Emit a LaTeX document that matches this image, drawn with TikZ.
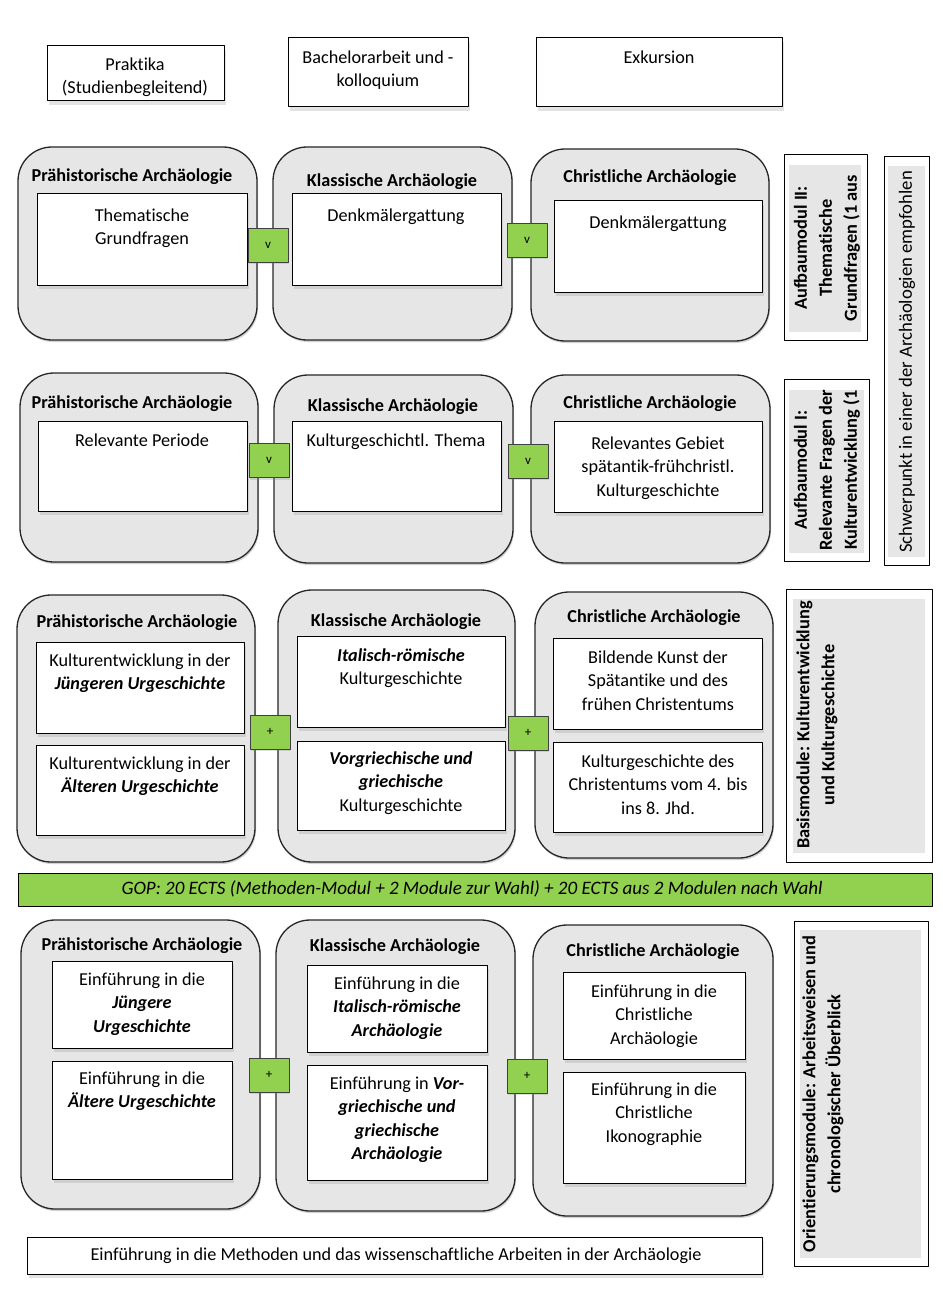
\documentclass[tikz,border=0pt]{standalone}
\usepackage{fontspec}
\setmainfont{Carlito}[Ligatures=NoCommon]
\usepackage{tikz}
\usetikzlibrary{shadows}
\definecolor{boxgray}{HTML}{E6E6E6}
\definecolor{okgreen}{HTML}{92D050}
\newcommand{\bfit}[1]{\textbf{\textit{#1}}}
\newcommand{\bodyfont}{\fontsize{18.2}{23.5}\selectfont}
\newcommand{\titlefont}{\fontsize{18.2}{21}\selectfont\bfseries}
\newcommand{\sidefont}{\fontsize{18.4}{25}\selectfont\bfseries}

\begin{document}
\begin{tikzpicture}[x=1pt,y=-1pt,join=round,
  outerbox/.style={draw=black!85,line width=1.3pt,fill=boxgray,rounded corners=34pt,drop shadow={shadow xshift=1pt,shadow yshift=-2pt,opacity=.35}},
  innerbox/.style={draw=black,line width=1pt,fill=white,drop shadow={shadow xshift=2pt,shadow yshift=-4pt,opacity=.22}},
  okbox/.style={draw=black!75,line width=.8pt,fill=okgreen,minimum width=40pt,minimum height=34pt,inner sep=0pt,font=\fontsize{13}{15}\selectfont,drop shadow={shadow xshift=1pt,shadow yshift=-2pt,opacity=.25}},
  title/.style={inner sep=0pt,font=\titlefont},
  body/.style={anchor=north,yshift=10.5pt,inner sep=0pt,align=center,font=\bodyfont},
  sidebox/.style={draw=black,line width=1pt,fill=white},
  sidetext/.style={rotate=90,inner sep=0pt,align=center,font=\sidefont}]
\path[use as bounding box,fill=white](0,0) rectangle (942,1289);

\filldraw[innerbox](47,46) rectangle (224,101);
\filldraw[innerbox](288,38) rectangle (468,107);
\filldraw[innerbox](536,38) rectangle (782,107);
\node[body] (praktika) at (135,64) {\strut Praktika\\(Studienbegleitend)};
\node[body] (bachelor) at (378,57) {\strut Bachelorarbeit und -\\kolloquium};
\node[body] (exkursion) at (659,57) {\strut Exkursion};

\filldraw[outerbox](18,147) rectangle (257,340);
\filldraw[outerbox](273,147) rectangle (512,340);
\filldraw[outerbox](531,149) rectangle (769,341);
\node[title] (pa2) at (132,177) {Prähistorische Archäologie};
\node[title] (ka2) at (392,182) {Klassische Archäologie};
\node[title] (ca2) at (650,178) {Christliche Archäologie};
\filldraw[innerbox](37,194) rectangle (247,285);
\filldraw[innerbox](292,194) rectangle (501,285);
\filldraw[innerbox](554,201) rectangle (762,292);
\node[body] (pa2a) at (142,215) {\strut Thematische\\Grundfragen};
\node[body] (ka2a) at (396,215) {\strut Denkmälergattung};
\node[body] (ca2a) at (658,222) {\strut Denkmälergattung};
\node[okbox] (or2a) at (268,245) {v};
\node[okbox] (or2b) at (527,240) {v};

\filldraw[outerbox](20,373) rectangle (258,562);
\filldraw[outerbox](274,375) rectangle (513,563);
\filldraw[outerbox](531,375) rectangle (770,563);
\node[title] (pa1) at (132,404) {Prähistorische Archäologie};
\node[title] (ka1) at (393,407) {Klassische Archäologie};
\node[title] (ca1) at (650,404) {Christliche Archäologie};
\filldraw[innerbox](38,421) rectangle (247,511);
\filldraw[innerbox](292,421) rectangle (501,511);
\filldraw[innerbox](554,421) rectangle (762,512);
\node[body] (pa1a) at (142,440) {\strut Relevante Periode};
\node[body] (ka1a) at (396,440) {\strut Kulturgeschichtl. Thema};
\node[body] (ca1a) at (658,443) {\strut Relevantes Gebiet\\spätantik-frühchristl.\\Kulturgeschichte};
\node[okbox] (or1a) at (269,460.5) {v};
\node[okbox] (or1b) at (528,461) {v};

\filldraw[outerbox](17,595) rectangle (255,862);
\filldraw[outerbox](278,590) rectangle (515,862);
\filldraw[outerbox](535,592) rectangle (773,858);
\node[title] (pb) at (137,623) {Prähistorische Archäologie};
\node[title] (kb) at (396,622) {Klassische Archäologie};
\node[title] (cb) at (654,618) {Christliche Archäologie};
\filldraw[innerbox](36,642) rectangle (244,733);
\filldraw[innerbox](36,745) rectangle (244,835);
\filldraw[innerbox](297,636) rectangle (505,727);
\filldraw[innerbox](297,741) rectangle (505,830);
\filldraw[innerbox](553,638) rectangle (762,729);
\filldraw[innerbox](553,742) rectangle (762,832);
\node[body] (pba) at (140,660) {\strut Kulturentwicklung in der\\\bfit{Jüngeren Urgeschichte}};
\node[body] (pbb) at (140,763) {\strut Kulturentwicklung in der\\\bfit{Älteren Urgeschichte}};
\node[body] (kba) at (401,655) {\strut\bfit{Italisch-römische}\\Kulturgeschichte};
\node[body] (kbb) at (401,758) {\strut\bfit{Vorgriechische und}\\\bfit{griechische}\\Kulturgeschichte};
\node[body] (cba) at (658,657) {\strut Bildende Kunst der\\Spätantike und des\\frühen Christentums};
\node[body] (cbb) at (658,761) {\strut Kulturgeschichte des\\Christentums vom 4. bis\\ins 8. Jhd.};
\node[okbox] (andba) at (270,732) {+};
\node[okbox] (andbb) at (528,733) {+};

\filldraw[draw=black,line width=1pt,fill=okgreen](18,873) rectangle (932,906);
\node[inner sep=0pt,font=\fontsize{19}{22}\selectfont\itshape] (gop) at (472,889) {GOP: 20 ECTS (Methoden-Modul + 2 Module zur Wahl) + 20 ECTS aus 2 Modulen nach Wahl};

\filldraw[outerbox](21,920) rectangle (260,1209);
\filldraw[outerbox](276,920) rectangle (515,1211);
\filldraw[outerbox](533,925) rectangle (773,1216);
\node[title] (po) at (142,946) {Prähistorische Archäologie};
\node[title] (ko) at (395,947) {Klassische Archäologie};
\node[title] (co) at (653,952) {Christliche Archäologie};
\filldraw[innerbox](52,961) rectangle (232,1048);
\filldraw[innerbox](52,1061) rectangle (232,1179);
\filldraw[innerbox](307,965) rectangle (487,1052);
\filldraw[innerbox](307,1065) rectangle (487,1180);
\filldraw[innerbox](563,972) rectangle (745,1059);
\filldraw[innerbox](563,1072) rectangle (745,1183);
\node[body] (poa) at (142,979) {\strut Einführung in die\\\bfit{Jüngere}\\\bfit{Urgeschichte}};
\node[body] (pob) at (142,1078) {\strut Einführung in die\\\bfit{Ältere Urgeschichte}};
\node[body] (koa) at (397,983) {\strut Einführung in die\\\bfit{Italisch-römische}\\\bfit{Archäologie}};
\node[body] (kob) at (397,1083) {\strut Einführung in \bfit{Vor-}\\\bfit{griechische und}\\\bfit{griechische}\\\bfit{Archäologie}};
\node[body] (coa) at (654,991) {\strut Einführung in die\\Christliche\\Archäologie};
\node[body] (cob) at (654,1089) {\strut Einführung in die\\Christliche\\Ikonographie};
\node[okbox] (andoa) at (269,1075) {+};
\node[okbox] (andob) at (527,1076) {+};

\filldraw[innerbox](27,1237) rectangle (762,1274);
\node[inner sep=0pt,font=\fontsize{18.2}{22}\selectfont] (methoden) at (396,1256) {Einführung in die Methoden und das wissenschaftliche Arbeiten in der Archäologie};

\filldraw[sidebox](784,155) rectangle (867,340);
\fill[boxgray](789,165) rectangle (861,332);
\node[sidetext] (aufbau2) at (827,248) {Aufbaumodul II:\\Thematische\\Grundfragen (1 aus};
\filldraw[sidebox](784,379) rectangle (869,561);
\fill[boxgray](789,390) rectangle (864,553);
\node[sidetext] (aufbau1) at (827,470) {Aufbaumodul I:\\Relevante Fragen der\\Kulturentwicklung (1};
\filldraw[sidebox](884,157) rectangle (929,565);
\fill[boxgray](888,166) rectangle (925,557);
\node[sidetext,font=\fontsize{18.7}{22}\selectfont] (schwerpunkt) at (907,362) {Schwerpunkt in einer der Archäologien empfohlen};
\filldraw[sidebox](786,589) rectangle (932,862);
\fill[boxgray](793,599) rectangle (925,853);
\node[sidetext] (basis) at (817,725) {Basismodule: Kulturentwicklung\\und Kulturgeschichte};
\filldraw[sidebox](794,921) rectangle (928,1266);
\fill[boxgray](800,930) rectangle (921,1258);
\node[sidetext] (orient) at (823,1094) {Orientierungsmodule: Arbeitsweisen und\\chronologischer Überblick};
\end{tikzpicture}
\end{document}
